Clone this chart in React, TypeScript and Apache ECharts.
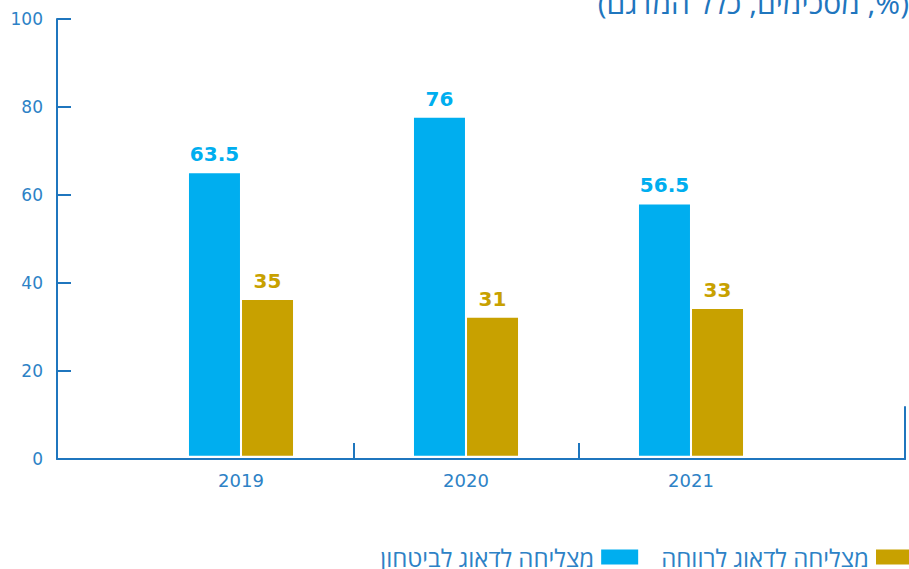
import React, { useEffect, useRef } from "react";
import * as echarts from "echarts";

const years = ["2019", "2020", "2021"];
const securityValues = [63.5, 76, 56.5];
const welfareValues = [35, 31, 33];
const yTicks = [0, 20, 40, 60, 80, 100];
const securityName = "מצליחה לדאוג לביטחון";
const welfareName = "מצליחה לדאוג לרווחה";
const subtitle = "(%, מסכימים, כלל המדגם)";

const BLUE = "#00AEEF";
const GOLD = "#C8A100";
const AXIS = "#1F76BE";
const TEXT = "#2D82C6";
const NUM_FONT = "'DejaVu Sans', sans-serif";
const HEB_FONT = "'Open Sans', 'DejaVu Sans', sans-serif";

export default function App() {
  const ref = useRef<HTMLDivElement>(null);
  useEffect(() => {
    document.body.style.margin = "0";
    if (!ref.current) return;
    const chart = echarts.init(ref.current, null, { renderer: "svg" });
    // pad categories with an empty slot so the band width matches the reference
    const cats = [...years, ""];
    chart.setOption({
      animation: false,
      textStyle: { fontFamily: NUM_FONT },
      graphic: [
        {
          type: "text",
          x: 909,
          y: 17,
          style: {
            text: "\u202B" + subtitle + "\u202C",
            fill: AXIS,
            font: `30px ${HEB_FONT}`,
            textAlign: "right",
            textVerticalAlign: "bottom",
          },
        },
      ],
      legend: {
        data: [securityName, welfareName],
        right: -4,
        top: 545,
        padding: 0,
        align: "right",
        itemGap: 23,
        itemWidth: 37,
        itemHeight: 15,
        icon: "rect",
        textStyle: {
          fontSize: 24,
          lineHeight: 18,
          color: TEXT,
          fontFamily: HEB_FONT,
          padding: [0, 2, 6, 0],
        },
      },
      grid: [
        { left: 57, right: 4, top: 19, bottom: 110, outerBoundsMode: "none" },
        { left: 128.5, width: 900, top: 11, bottom: 113.3, outerBoundsMode: "none" },
        { left: 905, right: 0, top: 407, bottom: 110, outerBoundsMode: "none" },
      ],
      xAxis: [
        {
          gridIndex: 0,
          type: "category",
          data: [""],
          boundaryGap: true,
          axisLine: { show: true, lineStyle: { color: AXIS, width: 2 } },
          axisTick: { show: true, inside: true, length: 15, lineStyle: { color: AXIS, width: 2 } },
          axisLabel: { show: false },
          splitLine: { show: false },
        },
        {
          gridIndex: 1,
          type: "category",
          data: cats,
          boundaryGap: true,
          offset: 3.3,
          axisLine: { show: false, onZero: false },
          axisTick: {
            show: true,
            inside: true,
            length: 16,
            interval: (i: number) => i === 1 || i === 2,
            lineStyle: { color: AXIS, width: 2 },
          },
          axisLabel: { show: true, color: TEXT, fontSize: 18, margin: 12, fontFamily: NUM_FONT },
          splitLine: { show: false },
        },
        { gridIndex: 2, type: "value", show: false },
      ],
      yAxis: [
        {
          gridIndex: 0,
          type: "value",
          min: yTicks[0],
          max: yTicks[yTicks.length - 1],
          interval: 20,
          axisLine: { show: true, lineStyle: { color: AXIS, width: 2 } },
          axisTick: { show: true, inside: true, length: 14, lineStyle: { color: AXIS, width: 2 } },
          axisLabel: { color: TEXT, fontSize: 17, margin: 14, fontFamily: NUM_FONT },
          splitLine: { show: false },
        },
        { gridIndex: 1, type: "value", min: 0, max: 100, show: false },
        {
          gridIndex: 2,
          type: "value",
          axisLine: { show: true, onZero: false, lineStyle: { color: AXIS, width: 2 } },
          axisTick: { show: false },
          axisLabel: { show: false },
          splitLine: { show: false },
        },
      ],
      series: [
        {
          name: securityName,
          type: "bar",
          xAxisIndex: 1,
          yAxisIndex: 1,
          data: securityValues,
          barWidth: 51,
          barGap: "4%",
          itemStyle: { color: BLUE },
          label: {
            show: true,
            position: "top",
            distance: 9,
            color: BLUE,
            fontSize: 20,
            fontWeight: "bold",
            fontFamily: NUM_FONT,
          },
        },
        {
          name: welfareName,
          type: "bar",
          xAxisIndex: 1,
          yAxisIndex: 1,
          data: welfareValues,
          barWidth: 51,
          barGap: "4%",
          itemStyle: { color: GOLD },
          label: {
            show: true,
            position: "top",
            distance: 9,
            color: GOLD,
            fontSize: 20,
            fontWeight: "bold",
            fontFamily: NUM_FONT,
          },
        },
      ],
    });
    return () => chart.dispose();
  }, []);
  return <div ref={ref} style={{ width: 909, height: 569 }} />;
}
